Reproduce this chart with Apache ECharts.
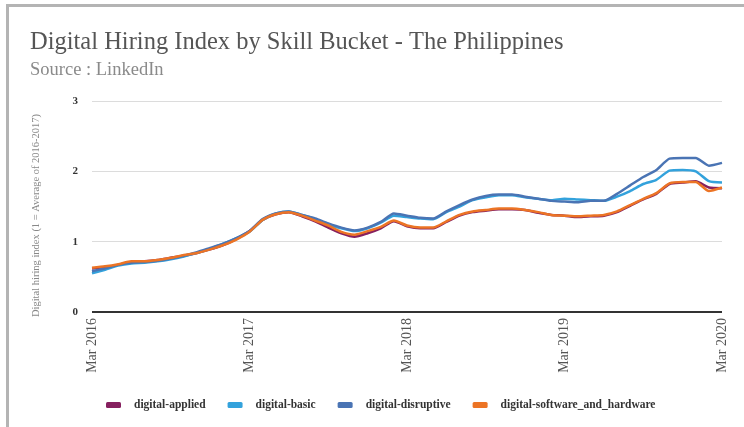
<!DOCTYPE html>
<html>
<head>
<meta charset="utf-8">
<script src="https://cdn.jsdelivr.net/npm/echarts@6/dist/echarts.min.js"></script>
<style>
html,body{margin:0;padding:0;background:#fff;}
#frame{position:absolute;left:6px;top:4px;width:738px;height:423px;border-top:3px solid #b4b4b4;border-left:3px solid #b4b4b4;box-sizing:border-box;}
#chart{position:absolute;left:0;top:0;width:744px;height:427px;}
</style>
</head>
<body>
<div id="frame"></div>
<div id="chart"></div>
<script>
const months = ["Jan","Feb","Mar","Apr","May","Jun","Jul","Aug","Sep","Oct","Nov","Dec"];
const categories = [];
for (let y = 2016, m = 2; !(y === 2020 && m > 2); ) {
  categories.push(months[m] + " " + y);
  m++; if (m > 11) { m = 0; y++; }
}
const seriesNames = ["digital-applied","digital-basic","digital-disruptive","digital-software_and_hardware"];
const applied = [0.62,0.64,0.67,0.71,0.72,0.74,0.77,0.80,0.84,0.89,0.95,1.04,1.15,1.31,1.39,1.42,1.36,1.29,1.20,1.12,1.07,1.12,1.19,1.29,1.22,1.19,1.19,1.28,1.37,1.42,1.44,1.46,1.46,1.45,1.41,1.38,1.37,1.35,1.36,1.37,1.42,1.51,1.60,1.68,1.82,1.84,1.86,1.77,1.76];
const basic = [0.55,0.60,0.66,0.69,0.70,0.72,0.75,0.79,0.84,0.90,0.97,1.05,1.14,1.31,1.40,1.43,1.38,1.32,1.24,1.19,1.15,1.19,1.27,1.37,1.35,1.33,1.32,1.42,1.50,1.59,1.63,1.66,1.66,1.63,1.61,1.59,1.61,1.60,1.59,1.58,1.64,1.72,1.82,1.88,2.01,2.02,2.00,1.86,1.84];
const disruptive = [0.58,0.62,0.67,0.70,0.71,0.73,0.76,0.80,0.85,0.91,0.97,1.05,1.15,1.32,1.40,1.43,1.38,1.33,1.26,1.20,1.16,1.20,1.28,1.40,1.37,1.34,1.33,1.43,1.52,1.60,1.65,1.67,1.67,1.64,1.61,1.58,1.57,1.56,1.58,1.58,1.68,1.80,1.92,2.02,2.18,2.19,2.19,2.08,2.12];
const software = [0.63,0.65,0.68,0.72,0.72,0.74,0.77,0.81,0.84,0.89,0.95,1.03,1.14,1.31,1.39,1.42,1.37,1.30,1.23,1.14,1.10,1.15,1.21,1.30,1.23,1.20,1.20,1.29,1.38,1.43,1.45,1.47,1.47,1.45,1.42,1.38,1.37,1.36,1.37,1.38,1.43,1.52,1.61,1.69,1.83,1.85,1.85,1.72,1.77];
const yTicks = [0,1,2,3];
const colors = ["#86205f","#33a2dc","#4a74b4","#ec7425"];

const chart = echarts.init(document.getElementById('chart'));
const serif = "'Liberation Serif','DejaVu Serif',serif";
const data = [applied, basic, disruptive, software];
chart.setOption({
  animation: false,
  color: colors,
  title: {
    text: "Digital Hiring Index by Skill Bucket - The Philippines",
    subtext: "Source : LinkedIn",
    left: 25, top: 25,
    itemGap: 6,
    textStyle: {fontFamily: serif, fontSize: 24.5, fontWeight: 'normal', color: '#555'},
    subtextStyle: {fontFamily: serif, fontSize: 18.5, color: '#8a8a8a'}
  },
  legend: {
    data: seriesNames,
    left: 101, top: 394,
    itemWidth: 15, itemHeight: 6, itemGap: 22,
    icon: 'roundRect',
    textStyle: {fontFamily: serif, fontSize: 11.5, fontWeight: 'bold', color: '#333', padding: [0, 0, 0, 8]}
  },
  grid: {left: 92, right: 22, top: 101, bottom: 115},
  xAxis: {
    type: 'category',
    data: categories,
    boundaryGap: false,
    axisLine: {show: false},
    axisTick: {show: false},
    axisLabel: {
      interval: 11, rotate: 90, margin: 6,
      fontFamily: serif, fontSize: 14, color: '#555'
    }
  },
  yAxis: {
    type: 'value',
    min: 0, max: 3, interval: 1,
    name: "Digital hiring index (1 = Average of 2016-2017)",
    nameLocation: 'middle', nameGap: 50,
    nameTextStyle: {fontFamily: serif, fontSize: 10.5, color: '#888', padding: [0, 18, 0, 0]},
    axisLine: {show: false},
    axisTick: {show: false},
    axisLabel: {
      margin: 14, fontFamily: serif, fontSize: 11, fontWeight: 'bold', color: '#333',
      formatter: v => yTicks.includes(v) ? String(v) : ''
    },
    splitLine: {lineStyle: {color: '#dcdcdc', width: 1}}
  },
  series: seriesNames.map((n, i) => ({
    name: n, type: 'line', data: data[i],
    showSymbol: false, smooth: 0.2,
    lineStyle: {width: 2.5, color: colors[i]},
    markLine: i === 0 ? {
      silent: true, symbol: 'none', label: {show: false},
      lineStyle: {color: '#333', width: 2, type: 'solid'},
      data: [{yAxis: 0}]
    } : undefined
  }))
});
</script>
</body>
</html>
